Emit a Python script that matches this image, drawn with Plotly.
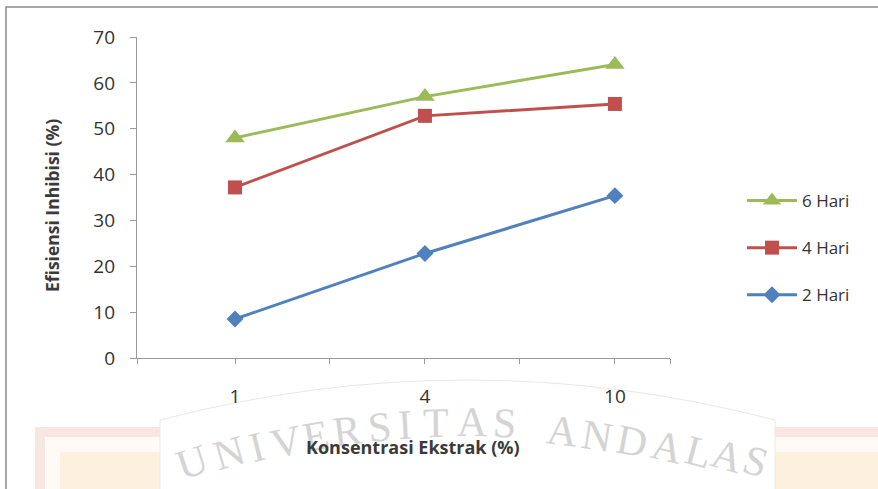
import plotly.graph_objects as go

# Data
konsentrasi = ["1", "4", "10"]
hari_2 = [8.5, 22.8, 35.4]
hari_4 = [37.2, 52.8, 55.4]
hari_6 = [48.0, 57.0, 64.0]

W, H = 878, 489
ML, MR, MT, MB = 137, 208, 37, 131
PW, PH = W - ML - MR, H - MT - MB


def px(xp):
    return (xp - ML) / PW


def py(yp):
    return (H - MB - yp) / PH


xpos = list(range(len(konsentrasi)))

fig = go.Figure()
series = [
    ("2 Hari", hari_2, "#4F81BD", "diamond", 13, 3),
    ("4 Hari", hari_4, "#C0504D", "square", 14, 2),
    ("6 Hari", hari_6, "#9BBB59", "triangle-up", 17, 1),
]
for name, vals, col, sym, size, rank in series:
    fig.add_trace(go.Scatter(
        x=xpos, y=vals, name=name, mode="lines+markers",
        line=dict(color=col, width=3),
        marker=dict(symbol=sym, size=size, color=col),
        legendgroup=name, legendrank=rank, cliponaxis=False,
    ))

# Tick marks at categories and between them
x_lo, x_hi = -0.516, 2.29
tickvals = [x_lo, 0, 0.5, 1, 1.5, 2, x_hi]
ticktext = ["", konsentrasi[0], "", konsentrasi[1], "", konsentrasi[2], ""]

font_fam = "Open Sans, Lato, sans-serif"
axis_col = "#9a9a9a"

fig.update_xaxes(
    range=[x_lo, x_hi], tickvals=tickvals, ticktext=ticktext,
    showline=True, linecolor=axis_col, linewidth=1.2,
    ticks="outside", ticklen=5, tickcolor=axis_col,
    showgrid=False, zeroline=False, ticklabelstandoff=16,
    tickfont=dict(size=19, color="#333333", family=font_fam),
)
fig.update_yaxes(
    range=[0, 70], dtick=10,
    showline=True, linecolor=axis_col, linewidth=1.2,
    ticks="outside", ticklen=6, tickcolor=axis_col,
    showgrid=False, zeroline=False, ticklabelstandoff=11,
    tickfont=dict(size=19, color="#333333", family=font_fam),
)

shapes = []
# Background emblem behind the chart foot
shapes.append(dict(type="rect", xref="paper", yref="paper", layer="below",
                   x0=px(35), x1=px(W + 5), y0=py(427), y1=py(H + 5),
                   fillcolor="#f7e6e1", line=dict(width=0)))
shapes.append(dict(type="rect", xref="paper", yref="paper", layer="below",
                   x0=px(45), x1=px(W + 5), y0=py(437), y1=py(H + 5),
                   fillcolor="#fffaf6", line=dict(width=0)))
shapes.append(dict(type="rect", xref="paper", yref="paper", layer="below",
                   x0=px(60), x1=px(W + 5), y0=py(452), y1=py(H + 5),
                   fillcolor="#fcf0df", line=dict(width=0)))
# White ribbon
rib = "M {:.4f},{:.4f} L {:.4f},{:.4f} Q {:.4f},{:.4f} {:.4f},{:.4f} L {:.4f},{:.4f} Z".format(
    px(160), py(H + 5), px(160), py(420), px(467), py(340),
    px(775), py(420), px(775), py(H + 5))
shapes.append(dict(type="path", xref="paper", yref="paper", layer="below",
                   path=rib, fillcolor="#ffffff",
                   line=dict(color="#ece6e6", width=1)))
# Chart frame
shapes.append(dict(type="rect", xref="paper", yref="paper", layer="above",
                   x0=px(6), x1=px(W + 10), y0=py(7), y1=py(H + 10),
                   fillcolor="rgba(0,0,0,0)", line=dict(color="#8a8a8a", width=1.5)))

annotations = []
# Arched watermark lettering
letters = [
    ("U", 192, 462, -18), ("N", 229, 453, -16), ("I", 257, 447, -14),
    ("V", 286, 442, -12), ("E", 316, 436, -10), ("R", 347, 431, -7),
    ("S", 379, 427, -5), ("I", 405, 425, -3), ("T", 436, 423, -1),
    ("A", 472, 422, 1), ("S", 504, 423, 3),
    ("A", 562, 431, 7), ("N", 597, 436, 9), ("D", 632, 441, 11),
    ("A", 667, 447, 13), ("L", 699, 452, 15), ("A", 727, 456, 16),
    ("S", 755, 461, 18),
]
for ch, lx, ly, ang in letters:
    annotations.append(dict(
        text=ch, xref="paper", yref="paper", x=px(lx), y=py(ly),
        xanchor="center", yanchor="middle", showarrow=False, textangle=ang,
        font=dict(family="Liberation Serif, DejaVu Serif, serif", size=42,
                  color="#d4d4d4"),
    ))

annotations.append(dict(
    text="<b>Konsentrasi Ekstrak (%)</b>", xref="paper", yref="paper",
    x=px(413), y=py(447), xanchor="center", yanchor="middle", showarrow=False,
    font=dict(family=font_fam, size=18, color="#3a3a3a"),
))
annotations.append(dict(
    text="<b>Efisiensi Inhibisi (%)</b>", xref="paper", yref="paper",
    x=px(52), y=py(206), xanchor="center", yanchor="middle", showarrow=False,
    textangle=-90, font=dict(family=font_fam, size=17.5, color="#3a3a3a"),
))

fig.update_layout(
    width=W, height=H,
    margin=dict(l=ML, r=MR, t=MT, b=MB, pad=0),
    paper_bgcolor="white", plot_bgcolor="rgba(0,0,0,0)",
    shapes=shapes, annotations=annotations,
    legend=dict(
        x=px(742), y=py(183), xanchor="left", yanchor="top",
        traceorder="grouped", tracegroupgap=22, itemwidth=50,
        font=dict(family=font_fam, size=17, color="#333333"),
        bgcolor="rgba(0,0,0,0)",
    ),
    showlegend=True,
)

fig.write_html("out.html")
